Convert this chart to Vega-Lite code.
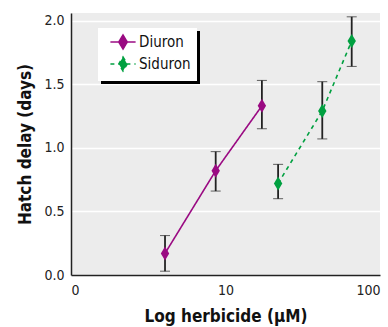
{
  "$schema": "https://vega.github.io/schema/vega-lite/v6.json",
  "width": 309,
  "height": 262,
  "autosize": {"type": "none"},
  "padding": {"left": 71, "top": 13, "right": 8, "bottom": 52},
  "background": "white",
  "config": {
    "view": {"fill": "#ececec", "stroke": null},
    "font": "DejaVu Sans Condensed",
    "axis": {
      "labelFont": "DejaVu Sans Condensed",
      "titleFont": "DejaVu Sans Condensed",
      "labelFontSize": 14,
      "labelColor": "#222",
      "titleColor": "#111",
      "titleFontSize": 17,
      "titleFontWeight": "bold",
      "domainColor": "#222",
      "domainWidth": 1.5,
      "ticks": false
    },
    "legend": {
      "labelFont": "DejaVu Sans Condensed",
      "labelFontSize": 15,
      "labelColor": "#111"
    }
  },
  "data": {
    "values": [
      {"series": "Diuron", "x": 4.06, "y": 0.17, "lo": 0.03, "hi": 0.31},
      {"series": "Diuron", "x": 8.64, "y": 0.82, "lo": 0.66, "hi": 0.97},
      {"series": "Diuron", "x": 17.2, "y": 1.33, "lo": 1.15, "hi": 1.53},
      {"series": "Siduron", "x": 21.9, "y": 0.72, "lo": 0.6, "hi": 0.87},
      {"series": "Siduron", "x": 42.3, "y": 1.29, "lo": 1.07, "hi": 1.52},
      {"series": "Siduron", "x": 65.6, "y": 1.84, "lo": 1.64, "hi": 2.03}
    ]
  },
  "encoding": {
    "x": {
      "field": "x",
      "type": "quantitative",
      "scale": {"type": "log", "domain": [1, 100], "nice": false},
      "axis": {
        "values": [1, 10, 100],
        "grid": false,
        "labelPadding": 8,
        "labelExpr": "datum.value == 1 ? '0' : datum.label",
        "title": "Log herbicide (μM)",
        "titlePadding": 11
      }
    }
  },
  "layer": [
    {
      "mark": {"type": "errorbar", "ticks": {"size": 10, "color": "#222", "strokeWidth": 1.8}, "rule": {"color": "#222", "strokeWidth": 1.8}},
      "encoding": {
        "y": {"field": "lo", "type": "quantitative", "title": "Hatch delay (days)"},
        "y2": {"field": "hi"}
      }
    },
    {
      "mark": {"type": "line", "strokeWidth": 1.6},
      "encoding": {
        "y": {"field": "y", "type": "quantitative", "title": "Hatch delay (days)"},
        "color": {
          "field": "series",
          "type": "nominal",
          "scale": {"domain": ["Diuron", "Siduron"], "range": ["#9a0a82", "#00a040"]},
          "legend": {
            "title": null,
            "orient": "none",
            "legendX": 27,
            "legendY": 15,
            "zindex": 2,
            "fillColor": "white",
            "padding": 6,
            "rowPadding": 0,
            "symbolType": "M-1.8,0H1.8M0,-1L0.6,0L0,1L-0.6,0Z",
            "symbolSize": 196,
            "symbolStrokeWidth": 1.6,
            "symbolOpacity": 1,
            "symbolOffset": 11,
            "labelOffset": 8
          }
        },
        "strokeDash": {
          "field": "series",
          "type": "nominal",
          "scale": {"domain": ["Diuron", "Siduron"], "range": [[1, 0], [4, 4]]},
          "legend": {
            "title": null,
            "orient": "none",
            "legendX": 27,
            "legendY": 15,
            "zindex": 2,
            "fillColor": "white",
            "padding": 6,
            "rowPadding": 0,
            "symbolType": "M-1.8,0H1.8M0,-1L0.6,0L0,1L-0.6,0Z",
            "symbolSize": 196,
            "symbolStrokeWidth": 1.6,
            "symbolOpacity": 1,
            "symbolOffset": 11,
            "labelOffset": 8
          }
        }
      }
    },
    {
      "mark": {"type": "point", "filled": true, "opacity": 1, "shape": "M0,-1L0.6,0L0,1L-0.6,0Z", "size": 196},
      "encoding": {
        "y": {
          "field": "y",
          "type": "quantitative",
          "scale": {"domain": [0, 2.06], "nice": false},
          "axis": {
            "values": [0, 0.5, 1, 1.5, 2],
            "format": ".1f",
            "gridColor": "white",
            "gridWidth": 1.5,
            "labelPadding": 7,
            "titlePadding": 9
          },
          "title": "Hatch delay (days)"
        },
        "color": {"field": "series", "type": "nominal"},
        "opacity": {
          "field": "series",
          "type": "nominal",
          "scale": {"domain": ["Siduron", "Diuron"], "range": [1, 1]},
          "legend": {
            "title": null,
            "orient": "none",
            "legendX": 30,
            "legendY": 18,
            "zindex": 1,
            "fillColor": "black",
            "padding": 6,
            "rowPadding": 0,
            "symbolType": "M-1.8,0H1.8M0,-1L0.6,0L0,1L-0.6,0Z",
            "symbolSize": 196,
            "symbolStrokeWidth": 1.6,
            "symbolOffset": 11,
            "symbolFillColor": "black",
            "symbolStrokeColor": "black",
            "labelColor": "black",
            "labelOpacity": 0,
            "labelOffset": 8
          }
        }
      }
    }
  ]
}
